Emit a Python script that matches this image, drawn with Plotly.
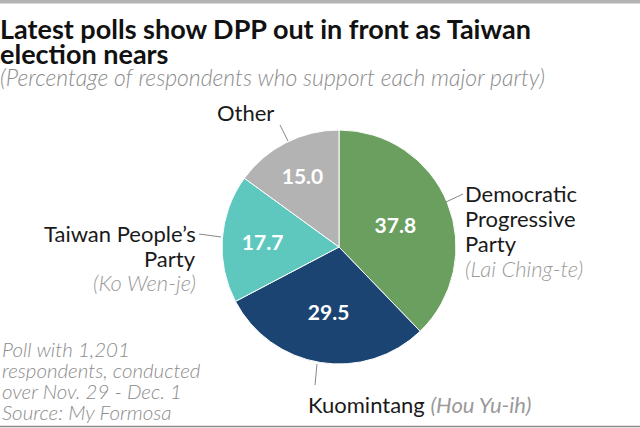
import plotly.graph_objects as go

# ---- data ----
parties = ["Democratic Progressive Party", "Kuomintang", "Taiwan People's Party", "Other"]
shares = [37.8, 29.5, 17.7, 15.0]
slice_colors = ["#6a9f60", "#1b4473", "#5ec8bf", "#b3b3b3"]

W, H = 640, 428
FONT = "Lato"

def px(x):
    return x / W

def py(y):
    return 1 - y / H

# pie geometry (pixels)
cx, cy, r = 339, 247, 117

fig = go.Figure()
fig.add_trace(go.Pie(
    labels=parties,
    values=shares,
    sort=False,
    direction="clockwise",
    rotation=0,
    marker=dict(colors=slice_colors, line=dict(color="white", width=1)),
    texttemplate="<b>%{value:.1f}</b>",
    textposition="inside",
    insidetextorientation="horizontal",
    textfont=dict(family=FONT, size=21, color="white"),
    hoverinfo="label+value",
    showlegend=False,
    domain=dict(x=[px(cx - r), px(cx + r)], y=[py(cy + r), py(cy - r)]),
))

ann = []

def text(x, y, s, size=19, color="#1a1a1a", xanchor="left", italic=False, bold=False, weight=None, family=FONT):
    if italic:
        s = "<i>" + s + "</i>"
    if bold:
        s = "<b>" + s + "</b>"
    f = dict(family=family, size=size, color=color)
    if weight:
        f["weight"] = weight
    ann.append(dict(x=px(x), y=py(y), xref="paper", yref="paper", text=s, showarrow=False,
                    xanchor=xanchor, yanchor="middle", align=xanchor if xanchor != "center" else "center",
                    borderpad=0, font=f))

# title & subtitle
text(-1, 28, "Latest polls show DPP out in front as Taiwan", size=27, bold=True, color="#111")
text(-1, 54, "election nears", size=27, bold=True, color="#111")
text(-1, 77, "(Percentage of respondents who support each major party)", size=23, italic=True,
     color="#8c8c8c", weight=300)

GRAY = "#9a9a9a"
LS = 22
# labels
text(245, 113, "Other", size=LS, xanchor="center")
text(197, 233, "Taiwan People\u2019s", size=LS, xanchor="right")
text(197, 258, "Party", size=LS, xanchor="right")
text(197, 282, "(Ko Wen-je)", size=LS, xanchor="right", italic=True, color=GRAY, weight=300)
text(464, 193, "Democratic", size=LS)
text(464, 218, "Progressive", size=LS)
text(464, 243, "Party", size=LS)
text(464, 268, "(Lai Ching-te)", size=LS, italic=True, color=GRAY, weight=300)
text(307, 404, "Kuomintang <span style='color:%s'><i>(Hou Yu-ih)</i></span>" % GRAY, size=22)

# footnote
foot = ["Poll with 1,201", "respondents, conducted", "over Nov. 29 - Dec. 1", "Source: My Formosa"]
for i, line in enumerate(foot):
    text(1, 349 + i * 21, line, size=20.5, italic=True, color="#8c8c8c", weight=300)

shapes = []
def seg(x0, y0, x1, y1):
    shapes.append(dict(type="line", xref="paper", yref="paper", x0=px(x0), y0=py(y0), x1=px(x1), y1=py(y1),
                       line=dict(color="#888888", width=1)))

seg(280, 125, 288, 141)      # Other
seg(199, 234, 221, 237)      # TPP
seg(446, 202, 463, 194)      # DPP
seg(317, 364, 315, 385)      # KMT

# top / bottom borders
shapes.append(dict(type="rect", xref="paper", yref="paper", x0=0, x1=1, y0=py(3.5), y1=1,
                   fillcolor="#b4b4b4", line=dict(width=0)))
shapes.append(dict(type="line", xref="paper", yref="paper", x0=0, x1=1, y0=py(426.5), y1=py(426.5),
                   line=dict(color="#8a8a8a", width=1.5)))

fig.update_layout(
    width=W, height=H,
    margin=dict(l=0, r=0, t=0, b=0),
    paper_bgcolor="white", plot_bgcolor="white",
    annotations=ann, shapes=shapes,
)

fig.write_html("out.html", config={"displayModeBar": False},
               post_script="document.body.style.margin='0';")
